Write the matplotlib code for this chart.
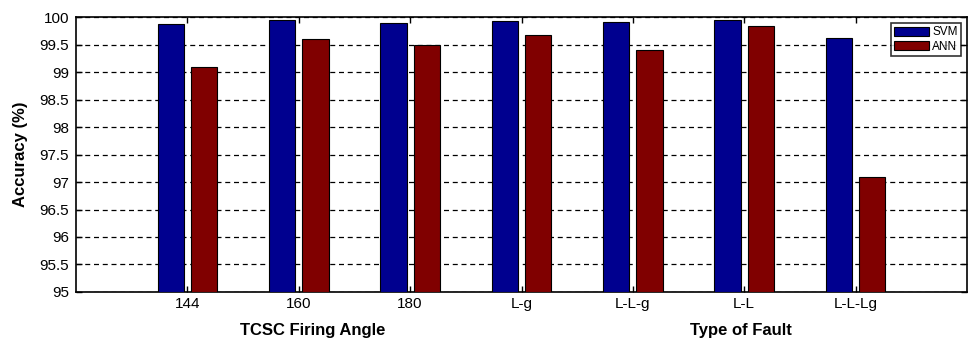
import matplotlib
matplotlib.use("Agg")
import matplotlib.pyplot as plt
import numpy as np

plt.rcParams['font.family'] = ['Liberation Sans', 'DejaVu Sans']

categories = ['144', '160', '180', 'L-g', 'L-L-g', 'L-L', 'L-L-Lg']
svm = [99.87, 99.94, 99.90, 99.93, 99.91, 99.95, 99.62]
ann = [99.10, 99.60, 99.50, 99.68, 99.40, 99.84, 97.10]

fig = plt.figure(figsize=(9.69, 3.43), dpi=100)
ax = fig.add_axes([76 / 969, 0.1487, 891 / 969, 0.8017])

x = np.arange(1, len(categories) + 1)
w = 0.235
off = 0.15
ax.bar(x - off, [v - 95 for v in svm], w, bottom=95, color='#00008F',
       edgecolor='black', linewidth=0.8, label='SVM', zorder=3)
ax.bar(x + off, [v - 95 for v in ann], w, bottom=95, color='#800000',
       edgecolor='black', linewidth=0.8, label='ANN', zorder=3)

ax.set_xlim(0, 8)
ax.set_ylim(95, 100)
ax.set_yticks(np.arange(95, 100.01, 0.5))
ax.set_yticklabels(['95', '95.5', '96', '96.5', '97', '97.5', '98', '98.5', '99', '99.5', '100'])
ax.set_xticks(x)
ax.set_xticklabels(categories)
ax.tick_params(direction='in', top=True, right=True, labelsize=11, length=4, width=1)
ax.tick_params(axis='y', pad=5)
ax.yaxis.grid(True, linestyle=(0, (4, 3)), color='black', linewidth=0.9, zorder=0)
for s in ax.spines.values():
    s.set_linewidth(1.2)
ax.set_axisbelow(True)

ax.set_ylabel('Accuracy (%)', fontsize=12, fontweight='bold', labelpad=8)

fig.text(313 / 969, 1 - 330 / 343, 'TCSC Firing Angle', ha='center', va='center',
         fontsize=12, fontweight='bold')
fig.text(741 / 969, 1 - 330 / 343, 'Type of Fault', ha='center', va='center',
         fontsize=12, fontweight='bold')

leg = ax.legend(loc='upper right', fontsize=8.5, frameon=True, fancybox=False,
                edgecolor='black', handlelength=2.9, handleheight=0.85,
                borderpad=0.3, labelspacing=0.2, handletextpad=0.3,
                borderaxespad=0.5)
leg.get_frame().set_linewidth(1.2)
leg.set_zorder(5)

fig.savefig('out.png', dpi=100)
